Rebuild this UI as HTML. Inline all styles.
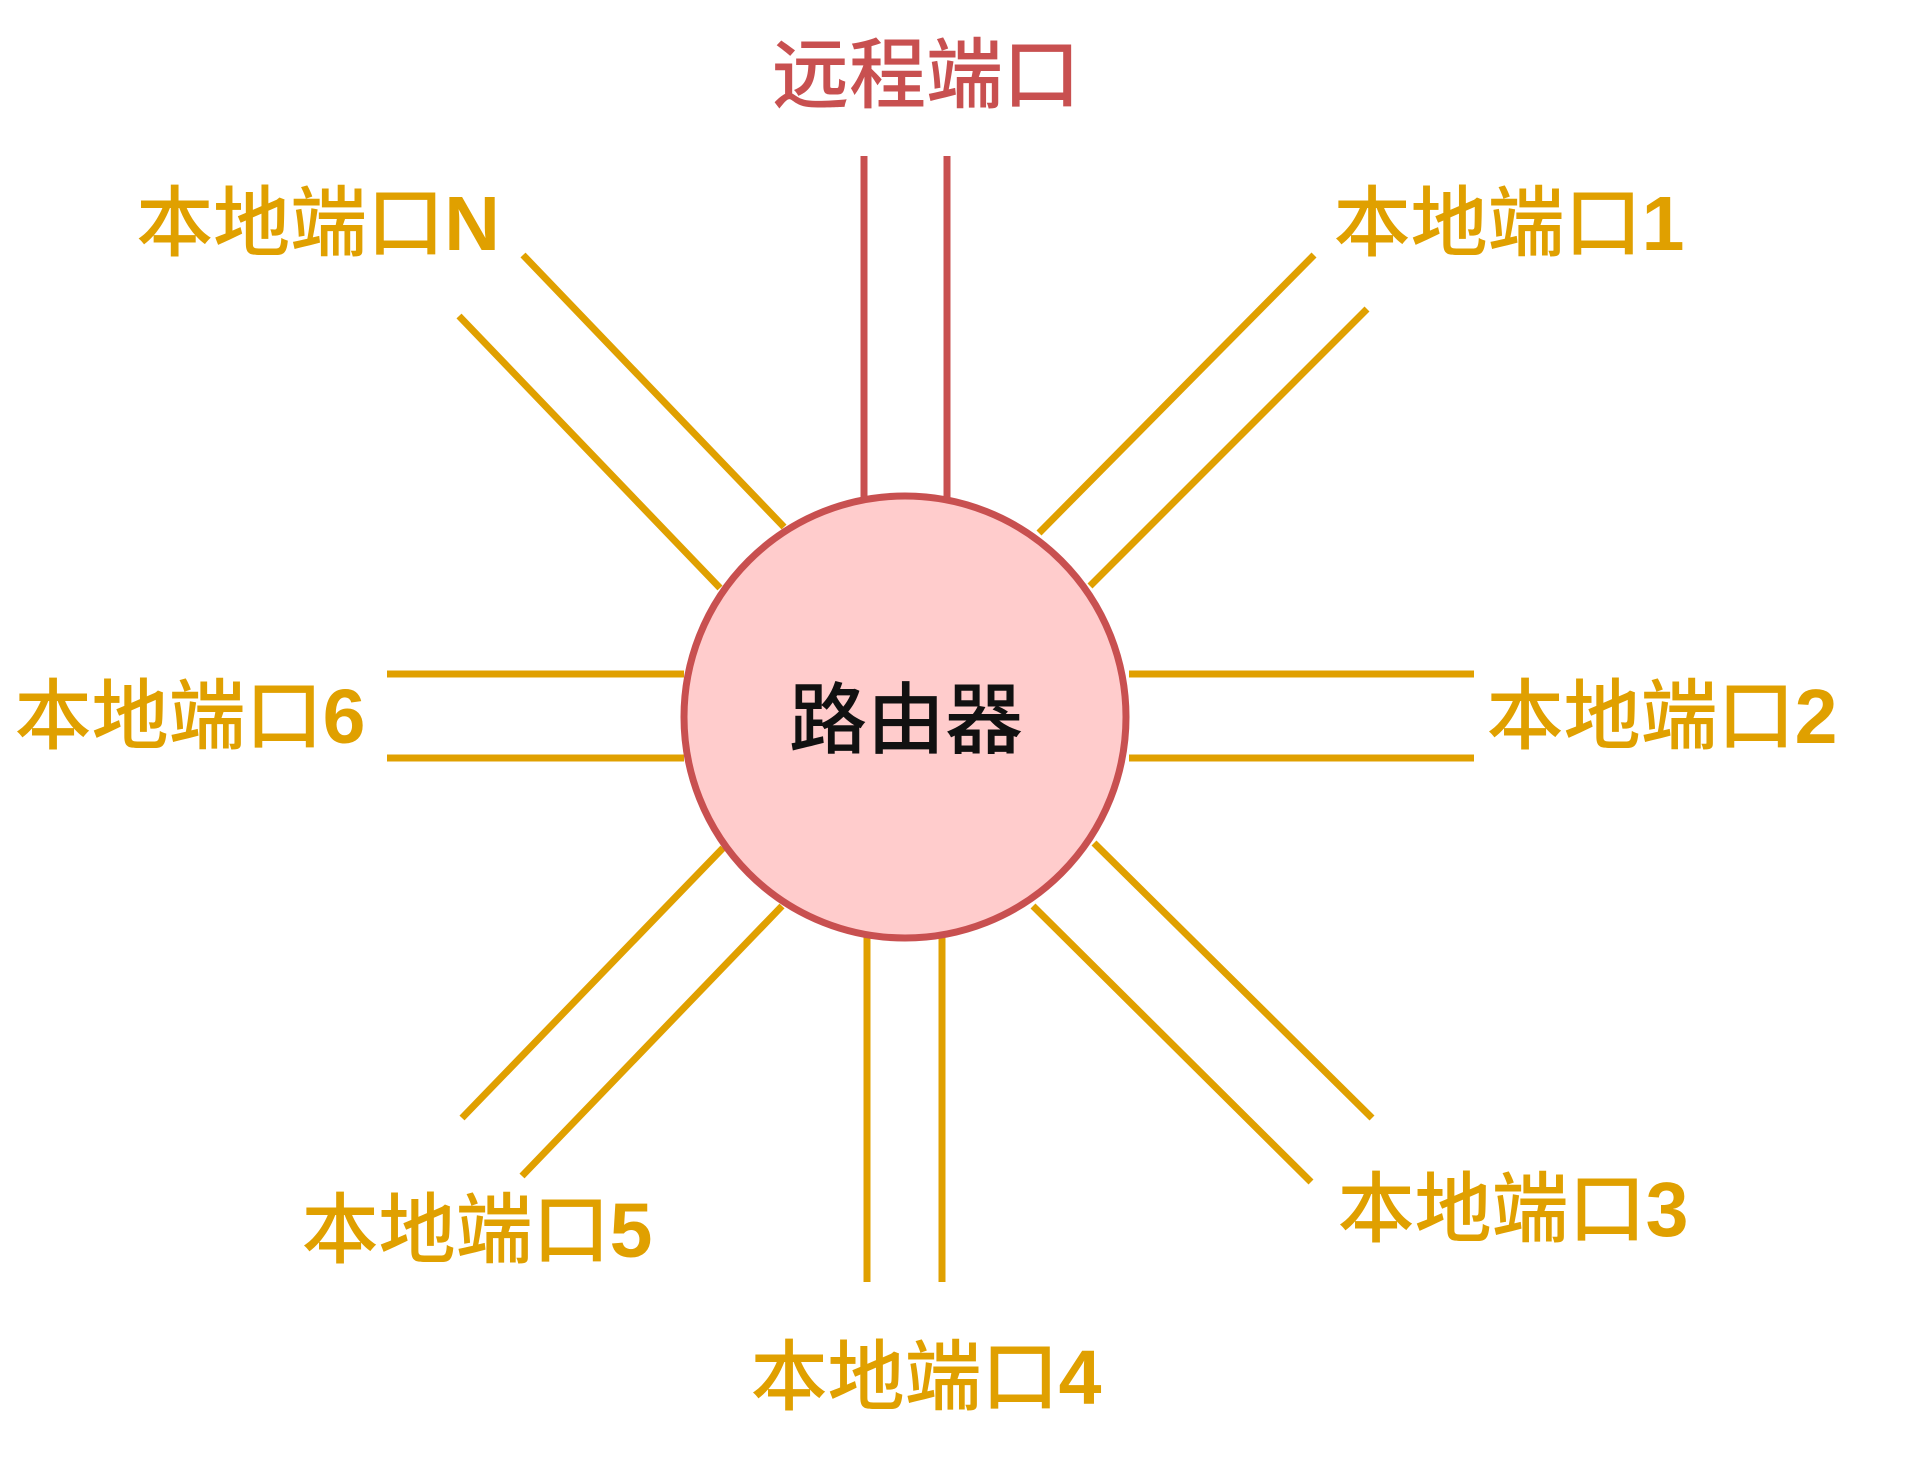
<!DOCTYPE html>
<html><head><meta charset="utf-8"><style>
html,body{margin:0;padding:0;background:#fff;}
svg text{font-family:"Liberation Sans","Noto Sans CJK SC",sans-serif;dominant-baseline:central;font-weight:500;}
svg tspan.b{font-weight:bold;}
</style></head><body>
<svg width="1920" height="1453" viewBox="0 0 1920 1453" xmlns="http://www.w3.org/2000/svg">
<g stroke="#E0A000" stroke-width="7" fill="none">
<line x1="387" y1="674" x2="684" y2="674"/><line x1="387" y1="758" x2="684" y2="758"/>
<line x1="1129" y1="674" x2="1474" y2="674"/><line x1="1129" y1="758" x2="1474" y2="758"/>
<line x1="867" y1="937" x2="867" y2="1282"/><line x1="942" y1="937" x2="942" y2="1282"/>
<line x1="523" y1="255" x2="784" y2="527"/><line x1="459" y1="316" x2="720" y2="588"/>
<line x1="1314" y1="255" x2="1039" y2="533"/><line x1="1367" y1="309" x2="1090" y2="586"/>
<line x1="1094" y1="843" x2="1372" y2="1118"/><line x1="1033" y1="906" x2="1311" y2="1182"/>
<line x1="723" y1="848" x2="462" y2="1118"/><line x1="782" y1="906" x2="522" y2="1176"/>
</g>
<g stroke="#C85050" stroke-width="7">
<line x1="864" y1="156" x2="864" y2="500"/><line x1="947" y1="156" x2="947" y2="500"/>
</g>
<circle cx="905" cy="717" r="221" fill="#FFCCCC" stroke="#C85050" stroke-width="7"/>
<text x="906" y="720" font-size="78" fill="#111" text-anchor="middle">路由器</text>
<text x="926" y="76" font-size="77" fill="#C85050" text-anchor="middle">远程端口</text>
<g font-size="77" fill="#E0A000" text-anchor="middle">
<text x="318" y="224">本地端口<tspan class="b">N</tspan></text>
<text x="1509" y="224">本地端口<tspan class="b">1</tspan></text>
<text x="190" y="717">本地端口<tspan class="b">6</tspan></text>
<text x="1662" y="717">本地端口<tspan class="b">2</tspan></text>
<text x="477" y="1231">本地端口<tspan class="b">5</tspan></text>
<text x="1513" y="1210">本地端口<tspan class="b">3</tspan></text>
<text x="926" y="1378">本地端口<tspan class="b">4</tspan></text>
</g>
</svg>
</body></html>
